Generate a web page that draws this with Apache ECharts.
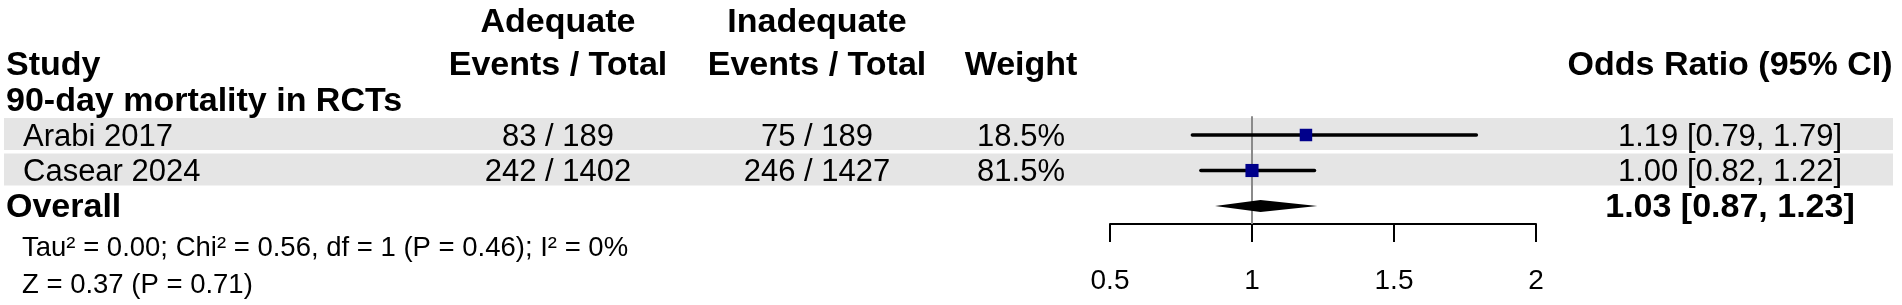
<!DOCTYPE html>
<html><head><meta charset="utf-8">
<script src="https://cdn.jsdelivr.net/npm/echarts@6/dist/echarts.min.js"></script>
<style>html,body{margin:0;padding:0;background:#fff}#chart{width:1902px;height:305px}</style>
</head><body><div id="chart"></div>
<script>
// ---------------- data ----------------
const studies = ['Arabi 2017', 'Casear 2024'];
const adequateEvents = [83, 242];
const adequateTotal = [189, 1402];
const inadequateEvents = [75, 246];
const inadequateTotal = [189, 1427];
const weights = [18.5, 81.5];
const oddsRatios = [1.19, 1.00];
const ciLower = [0.79, 0.82];
const ciUpper = [1.79, 1.22];
const overallLabel = 'Overall';
const overallOR = 1.03;
const overallLower = 0.87;
const overallUpper = 1.23;
const subgroupLabel = '90-day mortality in RCTs';
const headerTop = ['', 'Adequate', 'Inadequate', '', ''];
const headerBottom = ['Study', 'Events / Total', 'Events / Total', 'Weight', 'Odds Ratio (95% CI)'];
const heterogeneityText = 'Tau\u00B2 = 0.00; Chi\u00B2 = 0.56, df = 1 (P = 0.46); I\u00B2 = 0%';
const overallEffectText = 'Z = 0.37 (P = 0.71)';
const xTicks = [0.5, 1, 1.5, 2];

// ---------------- layout ----------------
const FONT = "'Liberation Sans', Arial, Helvetica, sans-serif";
const colX = [6, 558, 817, 1021, 1730];
const colAlign = ['left', 'center', 'center', 'center', 'center'];
const studyIndent = 23;
const BOLD = 34, REG = 31, FOOT = 27.5, TEXT_DY = 2;
const ROW_PX = 35.5, HEAD_PX = 64, GRID_H = 224;
const yMin = -HEAD_PX / ROW_PX;
const yMax = (GRID_H - HEAD_PX) / ROW_PX;
const R = { headTop: -43 / ROW_PX, head: 0, subgroup: 1, first: 2 };
R.overall = R.first + studies.length;
R.het = (246 - HEAD_PX) / ROW_PX;
R.z = (283 - HEAD_PX) / ROW_PX;

// ---------------- table cells ----------------
const cells = [];
headerTop.forEach((t, c) => { if (t) cells.push({ r: R.headTop, x: colX[c], align: colAlign[c], text: t, size: BOLD, bold: true }); });
headerBottom.forEach((t, c) => cells.push({ r: R.head, x: colX[c], align: colAlign[c], text: t, size: BOLD, bold: true }));
cells.push({ r: R.subgroup, x: colX[0], align: 'left', text: subgroupLabel, size: BOLD, bold: true });
studies.forEach((s, i) => {
  const r = R.first + i;
  cells.push({ r, x: studyIndent, align: 'left', text: s, size: REG });
  cells.push({ r, x: colX[1], align: 'center', text: adequateEvents[i] + ' / ' + adequateTotal[i], size: REG });
  cells.push({ r, x: colX[2], align: 'center', text: inadequateEvents[i] + ' / ' + inadequateTotal[i], size: REG });
  cells.push({ r, x: colX[3], align: 'center', text: weights[i].toFixed(1) + '%', size: REG });
  cells.push({ r, x: colX[4], align: 'center', text: oddsRatios[i].toFixed(2) + ' [' + ciLower[i].toFixed(2) + ', ' + ciUpper[i].toFixed(2) + ']', size: REG });
});
cells.push({ r: R.overall, x: colX[0], align: 'left', text: overallLabel, size: BOLD, bold: true });
cells.push({ r: R.overall, x: colX[4], align: 'center', text: overallOR.toFixed(2) + ' [' + overallLower.toFixed(2) + ', ' + overallUpper.toFixed(2) + ']', size: BOLD, bold: true });
cells.push({ r: R.het, x: 22, align: 'left', text: heterogeneityText, size: FOOT });
cells.push({ r: R.z, x: 22, align: 'left', text: overallEffectText, size: FOOT });

function textEl(x, y, c) {
  return { type: 'text', x: x, y: y + TEXT_DY, style: {
    text: c.text, fill: '#000', fontFamily: FONT, fontSize: c.size, fontWeight: c.bold ? 'bold' : 'normal',
    align: c.align, verticalAlign: 'middle', textAlign: c.align, textVerticalAlign: 'middle' } };
}

const chart = echarts.init(document.getElementById('chart'), null, { renderer: 'canvas' });
chart.setOption({
  animation: false,
  backgroundColor: '#fff',
  grid: { left: 1110, top: 0, width: 426, height: GRID_H, containLabel: false, outerBoundsMode: 'none' },
  xAxis: {
    type: 'value', min: xTicks[0], max: xTicks[xTicks.length - 1], interval: xTicks[1] - xTicks[0], position: 'bottom',
    axisLine: { show: true, onZero: false, lineStyle: { color: '#000', width: 2 } },
    axisTick: { show: true, inside: false, length: 18, lineStyle: { color: '#000', width: 2 } },
    axisLabel: { show: true, margin: 43, color: '#000', fontSize: 28, fontFamily: FONT, showMinLabel: true, showMaxLabel: true },
    splitLine: { show: false }
  },
  yAxis: { type: 'value', inverse: true, min: yMin, max: yMax, show: false, splitLine: { show: false } },
  series: [
    { // row bands
      type: 'custom', clip: false, z: 1,
      data: studies.map((s, i) => [xTicks[0], R.first + i]),
      renderItem: (params, api) => {
        const y = api.coord([api.value(0), api.value(1)])[1];
        return { type: 'rect', shape: { x: 4, y: y - 17, width: 1889, height: 32 }, style: { fill: '#e5e5e5' } };
      }
    },
    { // reference line at OR = 1
      type: 'custom', clip: false, z: 2,
      data: [[1, R.first - 0.53]],
      renderItem: (params, api) => {
        const p0 = api.coord([api.value(0), api.value(1)]);
        const p1 = api.coord([api.value(0), yMax]);
        return { type: 'line', shape: { x1: p0[0], y1: p0[1], x2: p1[0], y2: p1[1] }, style: { stroke: '#8a8a8a', lineWidth: 2 } };
      }
    },
    { // confidence intervals
      type: 'custom', clip: false, z: 3,
      data: studies.map((s, i) => [ciLower[i], R.first + i, ciUpper[i]]),
      renderItem: (params, api) => {
        const a = api.coord([api.value(0), api.value(1)]);
        const b = api.coord([api.value(2), api.value(1)]);
        return { type: 'line', shape: { x1: a[0], y1: a[1], x2: b[0], y2: b[1] }, style: { stroke: '#000', lineWidth: 3.5, lineCap: 'round' } };
      }
    },
    { // point estimates
      type: 'scatter', z: 4, symbol: 'rect',
      data: studies.map((s, i) => [oddsRatios[i], R.first + i, weights[i]]),
      symbolSize: (v) => 12.3 + v[2] * 0.01,
      itemStyle: { color: '#00008B', opacity: 1 }
    },
    { // overall diamond
      type: 'custom', clip: false, z: 4,
      data: [[overallLower, R.overall, overallOR, overallUpper]],
      renderItem: (params, api) => {
        const r = api.value(1);
        const l = api.coord([api.value(0), r]);
        const m = api.coord([api.value(2), r]);
        const h = api.coord([api.value(3), r]);
        return { type: 'polygon', shape: { points: [[l[0], l[1]], [m[0], m[1] - 6], [h[0], h[1]], [m[0], m[1] + 6]] }, style: { fill: '#000' } };
      }
    },
    { // table text
      type: 'custom', clip: false, z: 5,
      data: cells.map((c, i) => [xTicks[0], c.r, i]),
      renderItem: (params, api) => {
        const c = cells[api.value(2)];
        const y = api.coord([api.value(0), api.value(1)])[1];
        return textEl(c.x, y, c);
      }
    }
  ]
});
</script>
</body></html>
